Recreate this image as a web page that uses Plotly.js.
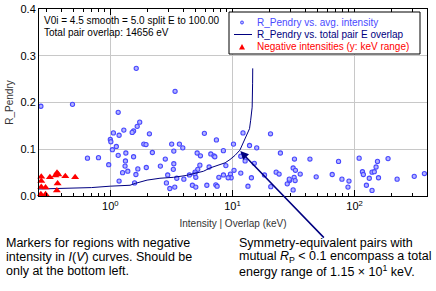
<!DOCTYPE html>
<html>
<head>
<meta charset="utf-8">
<script src="https://cdn.plot.ly/plotly-3.0.1.min.js"></script>
<style>html,body{margin:0;padding:0;background:#fff;}#chart{width:436px;height:291px;}</style>
</head>
<body>
<div id="chart"></div>
<script>
// ---- data ----
var intensityX = [1.63,0.27,0.49,1.16,1.74,1.66,1.29,1.55,1.51,1.06,1.18,2.09,1.00,1.01,1.88,1.96,1.12,1.04,1.34,2.21,1.16,1.55,0.65,0.80,1.33,2.82,0.97,1.32,1.68,1.97,2.57,1.39,1.26,1.62,1.18,1.58,2.88,2.95,
  3.39,5.89,12.2,20.5,7.39,3.18,3.68,3.92,3.31,8.43,10.2,13.8,15.8,5.14,5.47,6.65,7.05,7.17,11.7,24.7,12.7,3.31,5.41,6.44,8.83,15.1,3.28,5.20,4.94,4.92,4.44,3.50,4.00,5.01,8.44,9.63,9.76,9.22,10.3,11.7,14.3,18.3,22.8,24.1,7.74,3.37,3.07,4.70,5.01,6.17,7.31,7.49,13.4,20.6,28.1,29.3,
  32.2,43.1,73.9,109,154,188,31.4,32.8,35.9,29.2,32.0,32.6,31.4,48.5,65.6,78.8,90.0,88.3,116,118,139,145,150,132,125,139,157,223,308,373];
var intensityY = [0.273,0.192,0.196,0.179,0.158,0.149,0.141,0.139,0.136,0.135,0.130,0.133,0.121,0.116,0.111,0.110,0.106,0.099,0.092,0.093,0.087,0.084,0.081,0.082,0.075,0.079,0.067,0.064,0.058,0.061,0.064,0.053,0.050,0.046,0.032,0.028,0.028,0.045,
  0.224,0.134,0.135,0.133,0.120,0.111,0.111,0.103,0.096,0.097,0.111,0.108,0.103,0.092,0.086,0.090,0.086,0.084,0.085,0.092,0.075,0.069,0.066,0.062,0.065,0.070,0.057,0.057,0.051,0.047,0.045,0.038,0.036,0.040,0.045,0.047,0.039,0.039,0.055,0.049,0.039,0.045,0.051,0.047,0.040,0.019,0.016,0.023,0.019,0.023,0.024,0.021,0.021,0.020,0.026,0.033,
  0.079,0.079,0.074,0.081,0.074,0.080,0.060,0.055,0.047,0.036,0.040,0.033,0.013,0.041,0.046,0.036,0.032,0.019,0.052,0.046,0.051,0.052,0.062,0.038,0.023,0.012,0.039,0.036,0.042,0.048];

var overlapX = [0.26,0.45,0.7,1.0,1.45,1.6,2.0,2.55,3.3,4.2,4.79,5.8,6.56,7.66,8.71,9.55,10.5,11.5,12.4,13.1,13.8,14.1,14.5,14.62,14.656];
var overlapY = [0.015,0.016,0.018,0.021,0.023,0.027,0.034,0.038,0.040,0.044,0.048,0.053,0.060,0.066,0.071,0.078,0.087,0.098,0.116,0.130,0.144,0.162,0.190,0.240,0.273];

var negX = [0.272,0.272,0.32,0.355,0.366,0.375,0.428,0.515,0.37,0.272,0.295,0.365,0.27,0.295];
var negY = [0.041,0.032,0.040,0.044,0.050,0.046,0.042,0.040,0.027,0.019,0.018,0.012,0.004,0.004];

var xTickVals = [1, 10, 100];
var xTickText = ['10<sup>0</sup>', '10<sup>1</sup>', '10<sup>2</sup>'];
var yTickVals = [0, 0.1, 0.2, 0.3, 0.4];

var seriesNames = ['R_Pendry vs. avg. intensity', 'R_Pendry vs. total pair E overlap', 'Negative intensities (y: keV range)'];
var infoLines = ['V0i = 4.5 smooth = 5.0 split E to 100.00', 'Total pair overlap: 14656 eV'];
var noteLeft = ['Markers for regions with negative', 'intensity in <i>I</i>(<i>V</i>) curves. Should be', 'only at the bottom left.'];
var noteRight = ['Symmetry-equivalent pairs with', 'mutual <i>R</i><sub>P</sub> &lt; 0.1 encompass a total', 'energy range of 1.15 \u00d7 10<sup>1</sup> keV.'];

// ---- styling / layout helpers ----
var FONT = 'Liberation Sans, Arial, sans-serif';
var W = 436, H = 291, ML = 39, MR = 9, MT = 9, MB = 95;
var PW = W - ML - MR, PH = H - MT - MB;
function px(x) { return (x - ML) / PW; }           // pixel -> paper x
function py(y) { return (H - MB - y) / PH; }       // pixel -> paper y

var minorVals = [];
for (var d = -1; d <= 2; d++) {
  for (var k = 2; k <= 9; k++) minorVals.push(k * Math.pow(10, d));
}

var traces = [
  { x: intensityX, y: intensityY, type: 'scatter', mode: 'markers', name: seriesNames[0],
    marker: { symbol: 'circle', size: 4.2, color: '#b4b4ff', line: { color: '#4848ff', width: 1.1 } },
    showlegend: false, cliponaxis: false },
  { x: overlapX, y: overlapY, type: 'scatter', mode: 'lines', name: seriesNames[1],
    line: { color: '#000080', width: 1 }, showlegend: false },
  { x: negX, y: negY, type: 'scatter', mode: 'markers', name: seriesNames[2],
    marker: { symbol: 'triangle-up', size: 7, color: '#ff0000' }, showlegend: false, cliponaxis: false }
];

var annotations = [];
infoLines.forEach(function (t, i) {
  annotations.push({ xref: 'paper', yref: 'paper', x: px(42), y: py(20 + i * 12.5), xanchor: 'left', yanchor: 'middle',
    text: t, showarrow: false, font: { family: FONT, size: 10, color: '#000' } });
});
var legColors = ['#4a4aff', '#000080', '#ff0000'];
seriesNames.forEach(function (t, i) {
  annotations.push({ xref: 'paper', yref: 'paper', x: px(255), y: py(22.5 + i * 12), xanchor: 'left', yanchor: 'middle',
    text: t, showarrow: false, font: { family: FONT, size: 10, color: legColors[i] } });
});
noteLeft.forEach(function (t, i) {
  annotations.push({ xref: 'paper', yref: 'paper', x: px(4), y: py(243 + i * 14), xanchor: 'left', yanchor: 'middle',
    text: t, showarrow: false, font: { family: FONT, size: 12.5, color: '#000' } });
});
noteRight.forEach(function (t, i) {
  annotations.push({ xref: 'paper', yref: 'paper', x: px(237), y: py(243 + i * 14), xanchor: 'left', yanchor: 'middle',
    text: t, showarrow: false, font: { family: FONT, size: 12.5, color: '#000' } });
});
// arrows pointing into the plot
annotations.push({ xref: 'x', yref: 'y', x: Math.log10(0.339), y: -0.002, ax: 22, ay: 44, text: '',
  showarrow: true, arrowhead: 2, arrowsize: 1.1, arrowwidth: 1.5, arrowcolor: '#ff0000', standoff: 0 });
annotations.push({ xref: 'x', yref: 'y', x: Math.log10(11.6), y: 0.096, ax: 85, ay: 88, text: '',
  showarrow: true, arrowhead: 2, arrowsize: 1.1, arrowwidth: 1.5, arrowcolor: '#000080', standoff: 0 });

var shapes = [
  { type: 'rect', xref: 'paper', yref: 'paper', x0: px(229), x1: px(420), y0: py(54), y1: py(12),
    fillcolor: '#fff', line: { color: '#000', width: 1 }, layer: 'above' },
  { type: 'circle', xref: 'paper', yref: 'paper', x0: px(240.5), x1: px(243.5), y0: py(24), y1: py(21),
    fillcolor: '#b4b4ff', line: { color: '#4848ff', width: 1 }, layer: 'above' },
  { type: 'line', xref: 'paper', yref: 'paper', x0: px(234), x1: px(252), y0: py(34.5), y1: py(34.5),
    line: { color: '#000080', width: 1 }, layer: 'above' },
  { type: 'path', xref: 'paper', yref: 'paper',
    path: 'M ' + px(239) + ' ' + py(49.5) + ' L ' + px(245) + ' ' + py(49.5) + ' L ' + px(242) + ' ' + py(44) + ' Z',
    fillcolor: '#ff0000', line: { color: '#ff0000', width: 0 }, layer: 'above' }
];

var layout = {
  width: W, height: H,
  margin: { l: ML, r: MR, t: MT, b: MB, pad: 0 },
  paper_bgcolor: '#fff', plot_bgcolor: '#fff',
  font: { family: FONT, size: 11, color: '#000' },
  showlegend: false,
  xaxis: {
    type: 'log', range: [-0.584, 2.593],
    tickmode: 'array', tickvals: xTickVals, ticktext: xTickText,
    ticks: 'inside', ticklen: 6, tickwidth: 1, tickcolor: '#000',
    showline: true, linecolor: '#000', linewidth: 1, mirror: 'allticks',
    showgrid: true, gridcolor: '#c8c8c8', gridwidth: 1, zeroline: false,
    tickfont: { family: FONT, size: 11, color: '#000' },
    minor: { tickmode: 'array', tickvals: minorVals, ticks: 'inside', ticklen: 3, tickcolor: '#000', showgrid: false },
    title: { text: 'Intensity | Overlap (keV)', font: { family: FONT, size: 10, color: '#333' }, standoff: 8 }
  },
  yaxis: {
    range: [0, 0.4], tickmode: 'array', tickvals: yTickVals, tickformat: '.1f',
    ticks: '', showline: true, linecolor: '#000', linewidth: 1, mirror: true,
    showgrid: true, gridcolor: '#c8c8c8', gridwidth: 1, zeroline: false,
    tickfont: { family: FONT, size: 11, color: '#000' },
    title: { text: 'R_Pendry', font: { family: FONT, size: 10, color: '#333' }, standoff: 5 }
  },
  annotations: annotations,
  shapes: shapes
};

Plotly.newPlot('chart', traces, layout, { staticPlot: true, displayModeBar: false });
</script>
</body>
</html>
